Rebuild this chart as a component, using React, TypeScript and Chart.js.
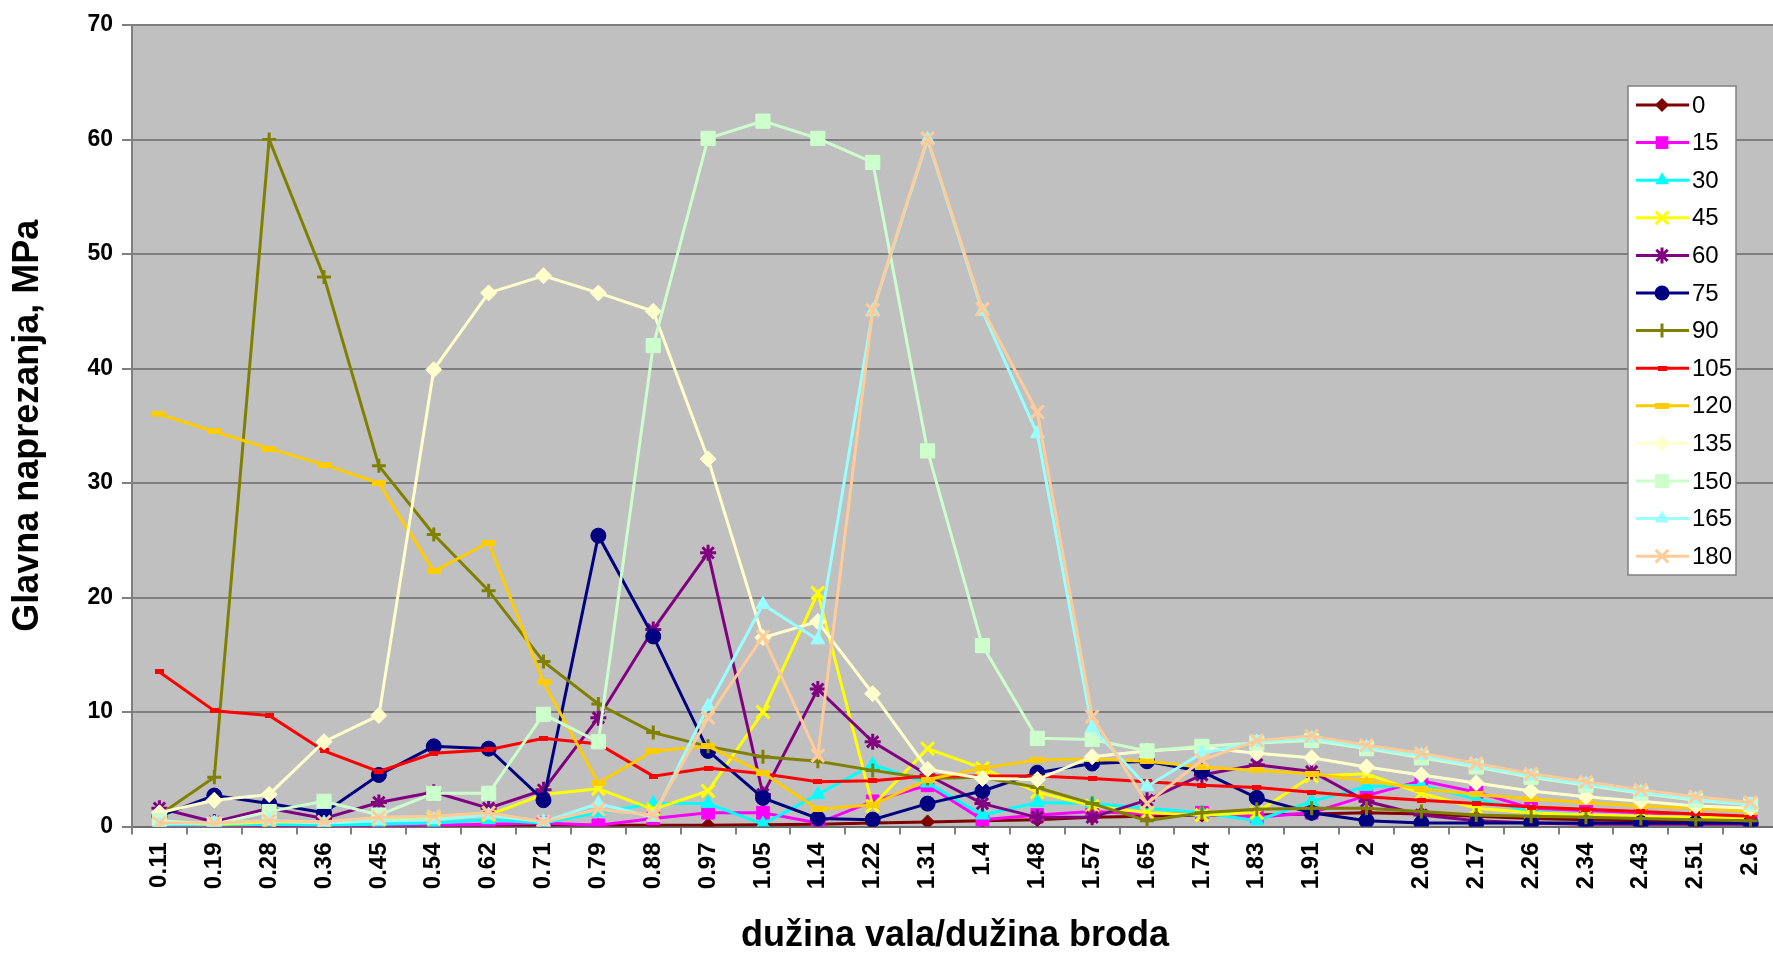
import React, { useEffect, useRef } from 'react';
import { Chart, registerables } from 'chart.js';

Chart.register(...registerables);

// ---------- DATA ----------
const categories = ['0.11', '0.19', '0.28', '0.36', '0.45', '0.54', '0.62', '0.71', '0.79', '0.88', '0.97', '1.05', '1.14', '1.22', '1.31', '1.4', '1.48', '1.57', '1.65', '1.74', '1.83', '1.91', '2', '2.08', '2.17', '2.26', '2.34', '2.43', '2.51', '2.6'];

const seriesNames = ['0', '15', '30', '45', '60', '75', '90', '105', '120', '135', '150', '165', '180'];

const s0 = [0, 0, 0, 0, 0, 0, 0.05, 0.1, 0.1, 0.1, 0.1, 0.15, 0.2, 0.3, 0.4, 0.5, 0.6, 0.8, 0.9, 1.0, 1.0, 1.1, 1.2, 1.1, 0.9, 0.7, 0.6, 0.5, 0.5, 0.4];
const s15 = [0, 0, 0, 0, 0.1, 0.1, 0.2, 0.3, 0.1, 0.7, 1.2, 1.2, 0.3, 2.2, 3.6, 0.6, 1.0, 1.3, 1.1, 1.2, 0.8, 1.2, 2.7, 4.0, 3.0, 1.6, 1.4, 1.2, 1.0, 0.8];
const s30 = [0.1, 0.1, 0.2, 0.1, 0.2, 0.3, 0.6, 0.3, 1.2, 2.0, 2.0, 0.2, 2.8, 5.4, 3.8, 1.0, 2.1, 2.0, 1.6, 1.2, 0.5, 2.2, 3.5, 3.6, 2.4, 1.3, 1.0, 0.9, 0.8, 0.7];
const s45 = [0.3, 0.2, 0.4, 0.4, 0.6, 0.7, 1.0, 2.8, 3.3, 1.5, 3.1, 10.0, 20.4, 1.8, 6.8, 5.1, 3.0, 1.8, 1.2, 1.0, 1.2, 4.4, 4.6, 2.9, 1.6, 1.2, 1.0, 0.9, 0.8, 0.7];
const s60 = [1.6, 0.4, 1.6, 0.7, 2.1, 3.0, 1.6, 3.2, 9.5, 17.2, 23.9, 2.8, 12.0, 7.4, 4.5, 2.0, 0.8, 0.8, 2.3, 4.5, 5.4, 4.8, 2.2, 1.0, 0.5, 0.3, 0.2, 0.2, 0.2, 0.2];
const s75 = [0.9, 2.7, 2.0, 1.2, 4.5, 7.0, 6.8, 2.3, 25.4, 16.6, 6.6, 2.5, 0.7, 0.6, 2.0, 3.1, 4.7, 5.5, 5.7, 4.8, 2.5, 1.2, 0.5, 0.3, 0.3, 0.3, 0.3, 0.3, 0.3, 0.3];
const s90 = [1.0, 4.3, 60.0, 48.0, 31.5, 25.5, 20.6, 14.4, 10.7, 8.2, 7.0, 6.1, 5.7, 4.9, 4.2, 4.3, 3.4, 2.0, 0.5, 1.2, 1.5, 1.6, 1.6, 1.3, 1.0, 0.9, 0.8, 0.7, 0.6, 0.5];
const s105 = [13.5, 10.1, 9.7, 6.6, 4.8, 6.4, 6.7, 7.7, 7.2, 4.4, 5.1, 4.6, 3.9, 4.0, 4.4, 4.4, 4.4, 4.2, 3.9, 3.6, 3.4, 3.0, 2.6, 2.3, 2.0, 1.7, 1.5, 1.3, 1.1, 0.9];
const s120 = [36.0, 34.5, 33.0, 31.6, 30.0, 22.3, 24.8, 12.6, 3.8, 6.6, 7.0, 4.7, 1.5, 1.9, 4.1, 5.1, 5.8, 5.9, 5.7, 5.2, 4.9, 4.6, 4.0, 3.3, 2.8, 2.4, 2.1, 1.8, 1.6, 1.3];
const s135 = [1.2, 2.3, 2.8, 7.4, 9.7, 39.9, 46.6, 48.1, 46.6, 45.0, 32.1, 16.5, 17.9, 11.6, 5.0, 4.2, 4.1, 6.1, 6.6, 6.9, 6.4, 6.0, 5.2, 4.5, 3.8, 3.1, 2.6, 2.2, 1.8, 1.6];
const s150 = [0.5, 0.2, 1.3, 2.2, 1.0, 2.9, 2.9, 9.8, 7.4, 42.0, 60.1, 61.6, 60.1, 58.0, 32.8, 15.8, 7.7, 7.6, 6.6, 7.0, 7.3, 7.5, 6.8, 6.0, 5.2, 4.3, 3.6, 2.9, 2.3, 1.9];
const s165 = [0.2, 0.3, 0.5, 0.3, 0.5, 0.6, 1.0, 0.4, 2.0, 0.8, 10.5, 19.4, 16.3, 45.0, 60.0, 45.0, 34.3, 8.6, 3.5, 6.4, 7.4, 7.7, 6.9, 6.2, 5.3, 4.4, 3.7, 3.0, 2.4, 1.9];
const s180 = [0.3, 0.3, 0.5, 0.4, 0.8, 0.9, 1.2, 0.4, 1.5, 1.0, 9.5, 16.6, 6.2, 45.1, 60.1, 45.2, 36.2, 9.6, 2.0, 5.8, 7.5, 7.9, 7.1, 6.4, 5.5, 4.6, 3.9, 3.2, 2.6, 2.1];

const seriesValues = [s0, s15, s30, s45, s60, s75, s90, s105, s120, s135, s150, s165, s180];

const yMin = 0;
const yMax = 70;
const yStep = 10;

const yTitle = 'Glavna naprezanja, MPa';
const xTitle = 'dužina vala/dužina broda';

// ---------- STYLES ----------
const colors = ['#800000', '#FF00FF', '#00FFFF', '#FFFF00', '#800080', '#000080', '#808000', '#FF0000', '#FFCC00', '#FFFFCC', '#CCFFCC', '#99FFFF', '#FFCC99'];
const markers = ['rectRot', 'rect', 'triangle', 'crossRot', 'star', 'circle', 'cross', 'dashS', 'dashL', 'rectRot', 'rect', 'triangle', 'crossRot'];
const radii = [7, 9, 8, 9, 8, 7.5, 7, 5, 7, 8, 10, 8, 9];

const FONT = 'Arial, "Liberation Sans", sans-serif';

function makeDash(color: string, w: number, h: number) {
  const c = document.createElement('canvas');
  c.width = w;
  c.height = h;
  const cx = c.getContext('2d')!;
  cx.fillStyle = color;
  cx.fillRect(0, 0, w, h);
  return c;
}

function drawMarker(ctx: CanvasRenderingContext2D, style: any, x: number, y: number, r: number, color: string) {
  ctx.save();
  ctx.fillStyle = color;
  ctx.strokeStyle = color;
  ctx.lineWidth = 3;
  if (typeof style !== 'string') {
    ctx.drawImage(style, x - style.width / 2, y - style.height / 2);
    ctx.restore();
    return;
  }
  ctx.beginPath();
  const d = r * Math.SQRT1_2;
  switch (style) {
    case 'rectRot':
      ctx.moveTo(x, y - r);
      ctx.lineTo(x + r, y);
      ctx.lineTo(x, y + r);
      ctx.lineTo(x - r, y);
      ctx.closePath();
      ctx.fill();
      break;
    case 'rect':
      ctx.rect(x - d, y - d, 2 * d, 2 * d);
      ctx.fill();
      break;
    case 'triangle':
      ctx.moveTo(x, y - r);
      ctx.lineTo(x + r * 0.866, y + r * 0.5);
      ctx.lineTo(x - r * 0.866, y + r * 0.5);
      ctx.closePath();
      ctx.fill();
      break;
    case 'crossRot':
      ctx.moveTo(x - d, y - d);
      ctx.lineTo(x + d, y + d);
      ctx.moveTo(x + d, y - d);
      ctx.lineTo(x - d, y + d);
      ctx.stroke();
      break;
    case 'star':
      ctx.moveTo(x - d, y - d);
      ctx.lineTo(x + d, y + d);
      ctx.moveTo(x + d, y - d);
      ctx.lineTo(x - d, y + d);
      ctx.moveTo(x, y - r);
      ctx.lineTo(x, y + r);
      ctx.stroke();
      break;
    case 'circle':
      ctx.arc(x, y, r, 0, Math.PI * 2);
      ctx.fill();
      break;
    case 'cross':
      ctx.moveTo(x, y - r);
      ctx.lineTo(x, y + r);
      ctx.moveTo(x - r, y);
      ctx.lineTo(x + r, y);
      ctx.stroke();
      break;
  }
  ctx.restore();
}

export default function App() {
  const ref = useRef<HTMLCanvasElement>(null);

  useEffect(() => {
    const canvas = ref.current!;
    const dashS = makeDash(colors[7], 9, 5);
    const dashL = makeDash(colors[8], 14, 6);
    const resolveStyle = (m: string) => (m === 'dashS' ? dashS : m === 'dashL' ? dashL : m);

    const datasets = seriesValues.map((vals, i) => ({
      label: seriesNames[i],
      data: vals,
      borderColor: colors[i],
      backgroundColor: colors[i],
      borderWidth: 3,
      pointStyle: resolveStyle(markers[i]) as any,
      pointRadius: radii[i],
      pointBackgroundColor: colors[i],
      pointBorderColor: colors[i],
      pointBorderWidth: ['crossRot', 'star', 'cross'].includes(markers[i]) ? 3 : 1,
      tension: 0,
      fill: false,
      order: seriesValues.length - i,
    }));

    const bgPlugin = {
      id: 'plotBg',
      beforeDraw(chart: any) {
        const { ctx, chartArea } = chart;
        ctx.save();
        ctx.fillStyle = '#FFFFFF';
        ctx.fillRect(0, 0, chart.width, chart.height);
        ctx.fillStyle = '#C0C0C0';
        ctx.fillRect(chartArea.left, chartArea.top, chartArea.right - chartArea.left, chartArea.bottom - chartArea.top);
        ctx.restore();
      },
    };

    const legendPlugin = {
      id: 'boxLegend',
      afterDraw(chart: any) {
        const ctx: CanvasRenderingContext2D = chart.ctx;
        const bx = 1628, by = 86, bw = 108, bh = 489;
        ctx.save();
        ctx.fillStyle = '#FFFFFF';
        ctx.fillRect(bx, by, bw, bh);
        ctx.strokeStyle = '#808080';
        ctx.lineWidth = 1.5;
        ctx.strokeRect(bx, by, bw, bh);
        ctx.font = `24px ${FONT}`;
        ctx.textBaseline = 'middle';
        ctx.textAlign = 'left';
        seriesNames.forEach((name, i) => {
          const y = 105 + i * 37.6;
          ctx.strokeStyle = colors[i];
          ctx.lineWidth = 3;
          ctx.beginPath();
          ctx.moveTo(1636, y);
          ctx.lineTo(1689, y);
          ctx.stroke();
          drawMarker(ctx, resolveStyle(markers[i]), 1662, y, radii[i], colors[i]);
          ctx.fillStyle = '#000000';
          ctx.fillText(name, 1692, y + 1);
        });
        ctx.restore();
      },
    };

    const chart = new Chart(canvas, {
      type: 'line',
      data: { labels: categories, datasets: datasets as any },
      options: {
        responsive: false,
        animation: false,
        events: [],
        layout: { padding: { top: 25, right: 2, left: 0, bottom: 0 } },
        plugins: {
          legend: { display: false },
          tooltip: { enabled: false },
          title: { display: false },
        },
        scales: {
          x: {
            type: 'category',
            offset: true,
            afterFit(scale: any) {
              scale.height = 953 - 826.5;
            },
            grid: {
              offset: true,
              drawOnChartArea: false,
              drawTicks: true,
              tickLength: 8,
              color: '#7F7F7F',
              lineWidth: 2,
            },
            border: { display: true, color: '#6E6E6E', width: 2 },
            ticks: {
              autoSkip: false,
              minRotation: 90,
              maxRotation: 90,
              padding: 8,
              color: '#000000',
              font: { family: FONT, size: 24, weight: 'bold' },
            },
            title: {
              display: true,
              text: xTitle,
              color: '#000000',
              font: { family: FONT, size: 36, weight: 'bold', lineHeight: 1 },
              padding: { top: 0, bottom: -1 },
            },
          },
          y: {
            min: yMin,
            max: yMax,
            afterFit(scale: any) {
              scale.width = 132;
            },
            grid: {
              color: '#7F7F7F',
              lineWidth: 2,
              drawTicks: true,
              tickLength: 10,
            },
            border: { display: true, color: '#7F7F7F', width: 2 },
            ticks: {
              stepSize: yStep,
              padding: 9,
              color: '#000000',
              font: { family: FONT, size: 23, weight: 'bold' },
            },
            title: {
              display: true,
              text: yTitle,
              color: '#000000',
              font: { family: FONT, size: 36, weight: 'bold', lineHeight: 1 },
              padding: { top: 10, bottom: 0 },
            },
          },
        },
      },
      plugins: [bgPlugin, legendPlugin],
    });

    return () => chart.destroy();
  }, []);

  return (
    <div style={{ position: 'fixed', left: 0, top: 0, width: 1773, height: 953, overflow: 'hidden', background: '#FFFFFF' }}>
      <canvas ref={ref} width={1790} height={953} style={{ display: 'block', width: 1790, height: 953 }} />
    </div>
  );
}
